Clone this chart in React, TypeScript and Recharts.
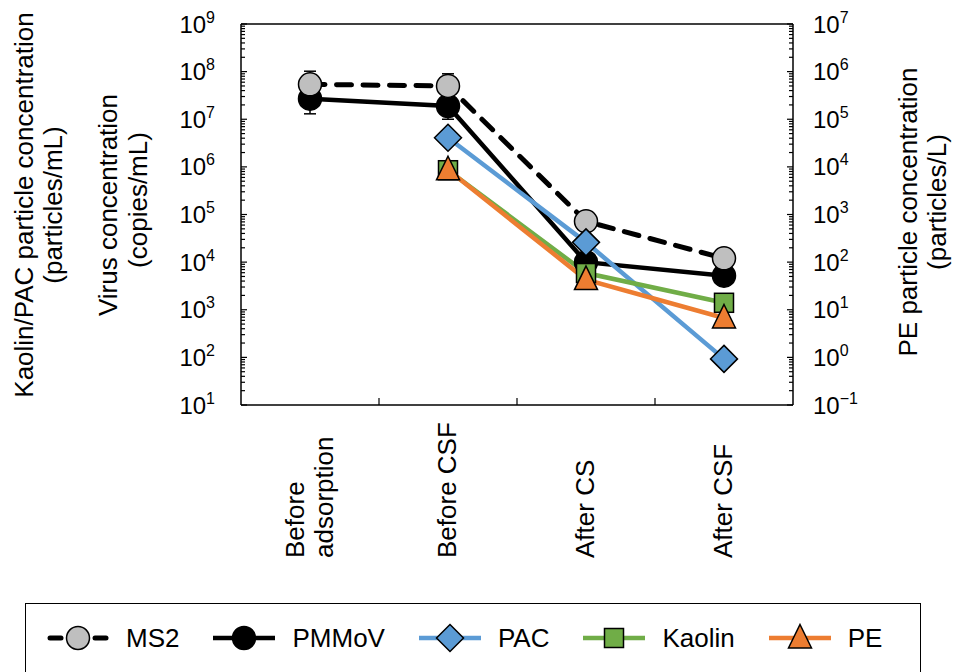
import React from 'react';
import { ComposedChart, Line, XAxis, YAxis, ErrorBar, ReferenceLine, Label } from 'recharts';

// sampling steps along the treatment train
const categories = ['Before adsorption', 'Before CSF', 'After CS', 'After CSF'];

// virus concentrations (copies/mL)
const ms2 = [5.4e7, 5.0e7, 7.2e4, 1.2e4];
const ms2ErrorUp = [4.8e7, 4.0e7, 0, 0];
const pmmov = [2.7e7, 1.9e7, 1.0e4, 5.2e3];
const pmmovErrorDown = [1.4e7, 9.0e6, 0, 0];

// particle concentrations: PAC / kaolin in particles/mL, PE in particles/L (right axis)
const pac = [null, 4.1e6, 2.6e4, 93];
const kaolin = [null, 8.5e5, 5.9e3, 1.4e3];
const pe = [null, 8.7e3, 43, 6.7];

const FONT = '"Liberation Sans", Arial, sans-serif';
const C_PAC = '#5B9BD5';
const C_KAOLIN = '#70AD47';
const C_PE = '#ED7D31';
const C_MS2 = '#BFBFBF';

const logTicks = (lo: number, hi: number) => {
  const out: number[] = [];
  for (let e = lo; e < hi; e++) {
    for (let k = 1; k < 10; k++) out.push(k * Math.pow(10, e));
  }
  out.push(Math.pow(10, hi));
  return out;
};

const leftTicks = logTicks(1, 9);
const rightTicks = logTicks(-1, 7);
// integers = category boundaries (tick marks), halves = category labels
const xTicks = [0.5, 1, 1.5, 2, 2.5, 3, 3.5];

const rows = categories.map((name, i) => ({
  x: i + 0.5,
  name,
  ms2: ms2[i],
  ms2Err: [0, ms2ErrorUp[i]],
  pmmov: pmmov[i],
  pmmovErr: [pmmovErrorDown[i], 0],
  pac: pac[i],
  kaolin: kaolin[i],
  pe: pe[i],
}));

const exponentOf = (v: number) => {
  const l = Math.log10(v);
  return Math.abs(l - Math.round(l)) < 1e-6 ? Math.round(l) : null;
};

const PowerLabel = ({ x, y, exp, anchor }: any) => (
  <text x={x} y={y + 8.5} textAnchor={anchor} fontFamily={FONT} fontSize={24} fill="#000">
    <tspan>10</tspan>
    <tspan dy={-10} fontSize={16}>{exp < 0 ? `\u2212${-exp}` : exp}</tspan>
  </text>
);

const LeftTick = (props: any) => {
  const { x, y, payload } = props;
  const exp = exponentOf(payload.value);
  const len = exp === null ? 4 : 6;
  return (
    <g>
      <line x1={x} x2={x + len} y1={y} y2={y} stroke="#000" strokeWidth={1.2} />
      {exp !== null && <PowerLabel x={x - 26} y={y} exp={exp} anchor="end" />}
    </g>
  );
};

const RightTick = (props: any) => {
  const { x, y, payload } = props;
  const exp = exponentOf(payload.value);
  const len = exp === null ? 4 : 6;
  return (
    <g>
      <line x1={x} x2={x - len} y1={y} y2={y} stroke="#000" strokeWidth={1.2} />
      {exp !== null && <PowerLabel x={x + 20} y={y} exp={exp} anchor="start" />}
    </g>
  );
};

const CategoryTick = (props: any) => {
  const { x, y, payload } = props;
  const v = payload.value;
  if (Number.isInteger(v)) {
    return <line x1={x} x2={x} y1={y} y2={y - 7} stroke="#000" strokeWidth={1.2} />;
  }
  const label = categories[Math.floor(v)];
  const lines = label === 'Before adsorption' ? ['Before', 'adsorption'] : [label];
  const bottom = y + 153;
  return (
    <g>
      {lines.map((t, i) => {
        const bx = x + 8 + (i - (lines.length - 1) / 2) * 29;
        return (
          <text key={t} x={bx} y={bottom} transform={`rotate(-90 ${bx} ${bottom})`}
            textAnchor="start" fontFamily={FONT} fontSize={26} fill="#000">
            {t}
          </text>
        );
      })}
    </g>
  );
};

const RotatedLines = ({ lines }: { lines: { text: string; x: number; y: number }[] }) => (
  <g>
    {lines.map((l) => (
      <text key={l.text} x={l.x} y={l.y} transform={`rotate(-90 ${l.x} ${l.y})`}
        textAnchor="middle" fontFamily={FONT} fontSize={26} fill="#000">
        {l.text}
      </text>
    ))}
  </g>
);

const leftTitle = (props: any) => {
  const { x } = props.viewBox;
  return (
    <RotatedLines lines={[
      { text: 'Kaolin/PAC particle concentration', x: x - 88, y: 205 },
      { text: '(particles/mL)', x: x - 59, y: 205 },
      { text: 'Virus concentration', x: x - 4, y: 205 },
      { text: '(copies/mL)', x: x + 26, y: 200 },
    ]} />
  );
};

const rightTitle = (props: any) => {
  const { x } = props.viewBox;
  return (
    <RotatedLines lines={[
      { text: 'PE particle concentration', x: x + 124, y: 212 },
      { text: '(particles/L)', x: x + 153, y: 202 },
    ]} />
  );
};

type Shape = 'circle' | 'diamond' | 'square' | 'triangle';

const Marker = ({ shape, cx, cy, fill }: { shape: Shape; cx: number; cy: number; fill: string }) => {
  const s = { fill, stroke: '#000', strokeWidth: 1.5 };
  if (shape === 'circle') return <circle cx={cx} cy={cy} r={11.5} {...s} />;
  if (shape === 'square') return <rect x={cx - 9.5} y={cy - 9.5} width={19} height={19} {...s} />;
  if (shape === 'diamond') {
    const r = 13.5;
    return <polygon points={`${cx},${cy - r} ${cx + r},${cy} ${cx},${cy + r} ${cx - r},${cy}`} {...s} />;
  }
  return <polygon points={`${cx},${cy - 13.5} ${cx + 11.5},${cy + 10} ${cx - 11.5},${cy + 10}`} {...s} />;
};

const dotFor = (shape: Shape, fill: string, id: string) => (p: any) => {
  if (p.cy == null || p.value == null) return <g key={`${id}-${p.index}`} />;
  return (
    <g key={`${id}-${p.index}`}>
      <Marker shape={shape} cx={p.cx} cy={p.cy} fill={fill} />
    </g>
  );
};

const series = [
  { name: 'MS2', shape: 'circle' as Shape, stroke: '#000', fill: C_MS2, dashed: true },
  { name: 'PMMoV', shape: 'circle' as Shape, stroke: '#000', fill: '#000', dashed: false },
  { name: 'PAC', shape: 'diamond' as Shape, stroke: C_PAC, fill: C_PAC, dashed: false },
  { name: 'Kaolin', shape: 'square' as Shape, stroke: C_KAOLIN, fill: C_KAOLIN, dashed: false },
  { name: 'PE', shape: 'triangle' as Shape, stroke: C_PE, fill: C_PE, dashed: false },
];

const LegendBox = () => (
  <div style={{
    position: 'absolute', left: 25, top: 603, width: 896, height: 90, boxSizing: 'border-box',
    border: '1.5px solid #000', background: '#fff', display: 'flex', alignItems: 'center',
    paddingLeft: 19, paddingBottom: 20, gap: 32, fontFamily: FONT, fontSize: 26,
  }}>
    {series.map((s) => (
      <div key={s.name} style={{ display: 'flex', alignItems: 'center', gap: 15 }}>
        <svg width={66} height={30}>
          {s.dashed ? (
            <g stroke={s.stroke} strokeWidth={5} strokeLinecap="round">
              <line x1={5} x2={16} y1={15} y2={15} />
              <line x1={50} x2={61} y1={15} y2={15} />
            </g>
          ) : (
            <line x1={2} x2={64} y1={15} y2={15} stroke={s.stroke} strokeWidth={4.5} />
          )}
          <Marker shape={s.shape} cx={33} cy={15} fill={s.fill} />
        </svg>
        <span>{s.name}</span>
      </div>
    ))}
  </div>
);

export default function App() {
  return (
    <div style={{ position: 'absolute', left: 0, top: 0, width: 956, height: 672, background: '#fff', overflow: 'hidden' }}>
      <ComposedChart width={956} height={672} data={rows} margin={{ top: 24, right: 13, bottom: 0, left: 121 }}>
        <XAxis dataKey="x" type="number" domain={[0, 4]} ticks={xTicks} interval={0} height={267}
          tickSize={0} tickMargin={0} tickLine={false} tick={CategoryTick}
          axisLine={{ stroke: '#000', strokeWidth: 1.5 }} />
        <YAxis yAxisId="left" scale="log" domain={[10, 1e9]} allowDataOverflow ticks={leftTicks} interval={0}
          width={120} tickSize={0} tickMargin={0} tickLine={false} tick={LeftTick}
          axisLine={{ stroke: '#000', strokeWidth: 1.5 }}>
          <Label content={leftTitle} />
        </YAxis>
        <YAxis yAxisId="right" orientation="right" scale="log" domain={[0.1, 1e7]} allowDataOverflow ticks={rightTicks}
          interval={0} width={150} tickSize={0} tickMargin={0} tickLine={false} tick={RightTick}
          axisLine={{ stroke: '#000', strokeWidth: 1.5 }}>
          <Label content={rightTitle} />
        </YAxis>
        <ReferenceLine yAxisId="left" y={1e9} stroke="#000" strokeWidth={1.5} />

        <Line yAxisId="left" dataKey="pmmov" stroke="#000" strokeWidth={4.5} isAnimationActive={false}
          dot={dotFor('circle', '#000', 'pmmov')} activeDot={false}>
          <ErrorBar dataKey="pmmovErr" direction="y" width={6} stroke="#000" strokeWidth={1.5} />
        </Line>
        <Line yAxisId="left" dataKey="ms2" stroke="#000" strokeWidth={5} strokeDasharray="15 11.5" strokeLinecap="round"
          isAnimationActive={false} dot={dotFor('circle', C_MS2, 'ms2')} activeDot={false}>
          <ErrorBar dataKey="ms2Err" direction="y" width={6} stroke="#000" strokeWidth={1.5} />
        </Line>
        <Line yAxisId="left" dataKey="pac" stroke={C_PAC} strokeWidth={4.5} isAnimationActive={false}
          dot={dotFor('diamond', C_PAC, 'pac')} activeDot={false} />
        <Line yAxisId="left" dataKey="kaolin" stroke={C_KAOLIN} strokeWidth={4.5} isAnimationActive={false}
          dot={dotFor('square', C_KAOLIN, 'kaolin')} activeDot={false} />
        <Line yAxisId="right" dataKey="pe" stroke={C_PE} strokeWidth={4.5} isAnimationActive={false}
          dot={dotFor('triangle', C_PE, 'pe')} activeDot={false} />
      </ComposedChart>
      <LegendBox />
    </div>
  );
}
